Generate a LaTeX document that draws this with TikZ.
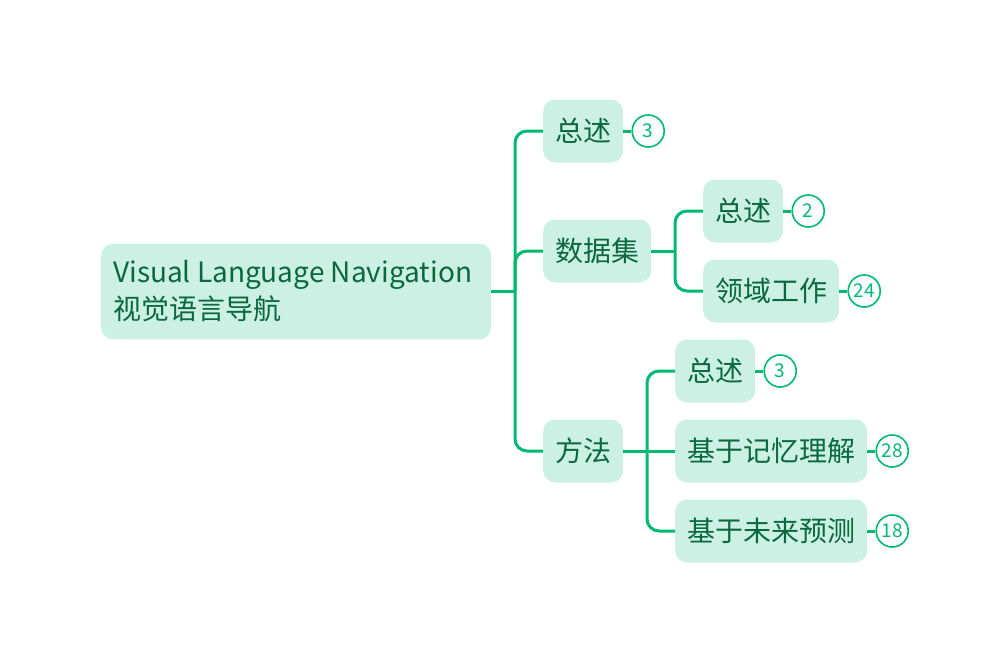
\documentclass[tikz,border=0pt]{standalone}
\usepackage{fontspec}
\setmainfont{Noto Sans CJK SC}
\usetikzlibrary{positioning}
\definecolor{mint}{RGB}{204,241,228}
\definecolor{leaf}{RGB}{0,186,114}
\definecolor{ink}{RGB}{10,104,64}
\begin{document}
\begin{tikzpicture}[x=1pt, y=-1pt,
    topic/.style={fill=mint, rounded corners=12pt, text=ink, inner xsep=12pt, inner ysep=15pt, minimum height=63pt, anchor=west, font=\fontsize{28}{37}\selectfont},
    badge/.style={circle, draw=leaf, line width=1.6pt, fill=white, text=leaf, minimum size=32pt, inner sep=0pt, font=\fontsize{19}{19}\selectfont},
    link/.style={draw=leaf, line width=3pt, rounded corners=12pt},
  ]
\useasboundingbox (0,0) rectangle (1008,664);

\node[topic, align=flush left, text width=366pt, inner ysep=17pt] (root) at (101,291.5) {Visual Language Navigation\\视觉语言导航};

\node[topic] (ov) at (543,131) {总述};
\node[topic] (data) at (543,251) {数据集};
\node[topic] (meth) at (543,451) {方法};

\node[topic] (dov) at (703,211) {总述};
\node[topic] (field) at (703,291) {领域工作};

\node[topic] (mov) at (675,371) {总述};
\node[topic] (mem) at (675,451) {基于记忆理解};
\node[topic] (pred) at (675,531) {基于未来预测};

\coordinate (j1) at (515,291.5);
\coordinate (j2) at (675,251);
\coordinate (j3) at (647,451);

\draw[link] (root.east) -- (j1);
\foreach \n in {ov,data,meth}
    \draw[link] (j1) |- (\n.west);
\draw[link] (data.east) -- (j2);
\foreach \n in {dov,field}
    \draw[link] (j2) |- (\n.west);
\draw[link] (meth.east) -- (mem.west);
\foreach \n in {mov,pred}
    \draw[link] (j3) |- (\n.west);

% counters
\foreach \n/\k in {ov/3, dov/2, field/24, mov/3, mem/28, pred/18} {
    \node[badge, right=8pt of \n] (c\n) {\k};
    \draw[link] (\n.east) -- (c\n.west);
}
\end{tikzpicture}
\end{document}
